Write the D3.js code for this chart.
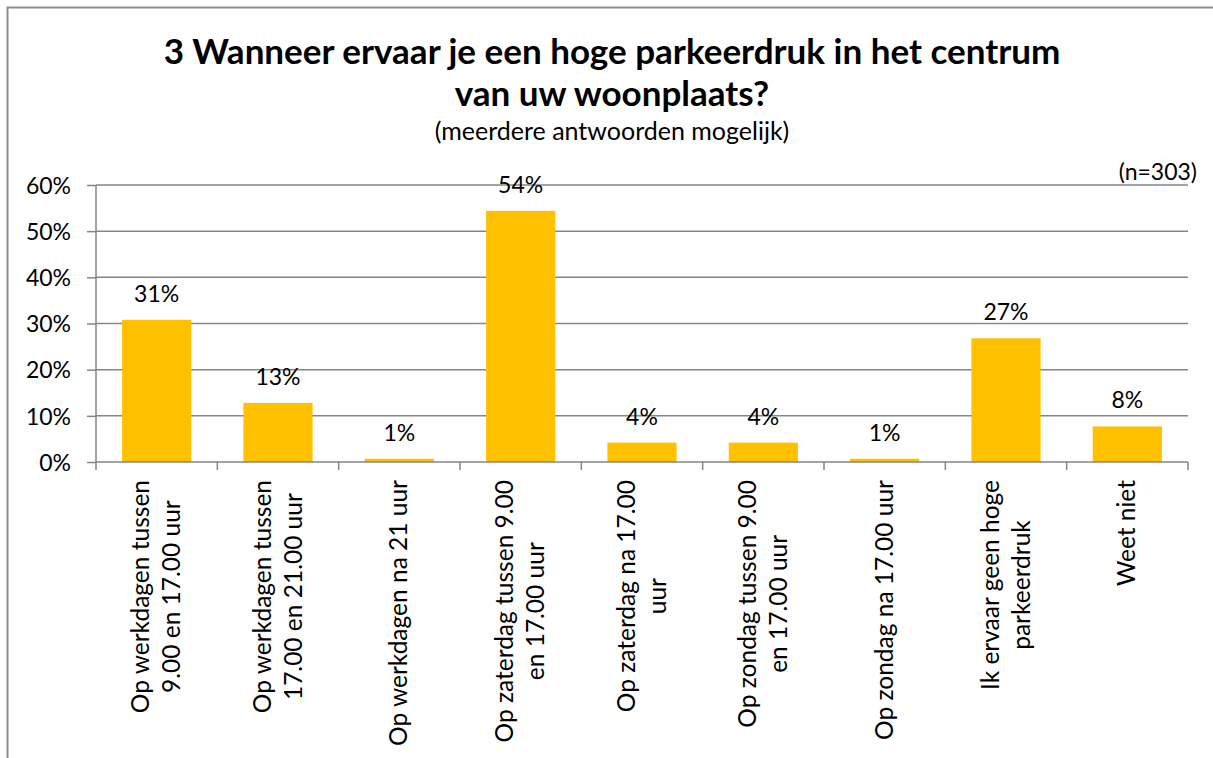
<!DOCTYPE html>
<html>
<head>
<meta charset="utf-8">
<script src="https://cdn.jsdelivr.net/npm/d3@7"></script>
<style>
  body { margin: 0; background: #fff; }
  svg text { font-family: Lato, "Open Sans", sans-serif; fill: #000; }
</style>
</head>
<body>
<svg id="chart" width="1213" height="758"></svg>
<script>
// data
var categories = [
    ["Op werkdagen tussen", "9.00 en 17.00 uur"],
    ["Op werkdagen tussen", "17.00 en 21.00 uur"],
    ["Op werkdagen na 21 uur"],
    ["Op zaterdag tussen 9.00", "en 17.00 uur"],
    ["Op zaterdag na 17.00", "uur"],
    ["Op zondag tussen 9.00", "en 17.00 uur"],
    ["Op zondag na 17.00 uur"],
    ["Ik ervaar geen hoge", "parkeerdruk"],
    ["Weet niet"]
];
var values = [30.8, 12.8, 0.7, 54.4, 4.2, 4.2, 0.7, 26.8, 7.7];
var valueLabels = ["31%", "13%", "1%", "54%", "4%", "4%", "1%", "27%", "8%"];
var yTicks = [0, 10, 20, 30, 40, 50, 60];
var titleLines = ["3 Wanneer ervaar je een hoge parkeerdruk in het centrum", "van uw woonplaats?"];
var subtitle = "(meerdere antwoorden mogelijk)";
var nLabel = "(n=303)";

var svg = d3.select("#chart");
var gridColor = "#868686";

// chart border (runs off the right and bottom edge)
svg.append("rect")
    .attr("x", 7.5).attr("y", 7.5)
    .attr("width", 1230).attr("height", 800)
    .attr("fill", "none")
    .attr("stroke", "#8c8c8c")
    .attr("stroke-width", 2);

// titles
svg.selectAll(".title")
    .data(titleLines)
    .enter().append("text")
    .attr("class", "title")
    .attr("x", 612)
    .attr("y", (d, i) => 64 + i * 42)
    .attr("text-anchor", "middle")
    .style("font-size", "35px")
    .style("font-weight", "bold")
    .text(d => d);

svg.append("text")
    .attr("x", 612).attr("y", 140)
    .attr("text-anchor", "middle")
    .style("font-size", "25px")
    .text(subtitle);

svg.append("text")
    .attr("x", 1197).attr("y", 180)
    .attr("text-anchor", "end")
    .style("font-size", "23px")
    .text(nLabel);

var x0 = 96, x1 = 1188, yTop = 185, yBottom = 462;

var x = d3.scaleBand()
    .domain(d3.range(categories.length))
    .range([x0, x1])
    .paddingInner(0.43)
    .paddingOuter(0.215);

var y = d3.scaleLinear()
    .domain([0, 60])
    .range([yBottom, yTop]);

// gridlines + y axis
var yAxis = svg.append("g")
    .attr("transform", "translate(" + x0 + ",0)")
    .call(d3.axisLeft(y).tickValues(yTicks).tickSize(9).tickPadding(16).tickFormat(d => d + "%"));
yAxis.select(".domain").remove();
yAxis.selectAll(".tick line").attr("stroke", gridColor).attr("stroke-width", 1.5);
yAxis.selectAll(".tick text").style("font-size", "23px").attr("fill", "#000").attr("dy", "0.36em");

svg.append("g")
    .selectAll("line")
    .data(yTicks.filter(d => d > 0))
    .enter().append("line")
    .attr("x1", x0).attr("x2", x1)
    .attr("y1", d => y(d)).attr("y2", d => y(d))
    .attr("stroke", gridColor)
    .attr("stroke-width", 1.5);

// bars
svg.append("g")
    .selectAll("rect")
    .data(values)
    .enter().append("rect")
    .attr("x", (d, i) => x(i))
    .attr("width", x.bandwidth())
    .attr("y", d => y(d))
    .attr("height", d => yBottom - y(d))
    .attr("fill", "#FFC000");

// value labels
svg.append("g")
    .selectAll("text")
    .data(values)
    .enter().append("text")
    .attr("x", (d, i) => x(i) + x.bandwidth() / 2)
    .attr("y", d => y(d) - 18)
    .attr("text-anchor", "middle")
    .style("font-size", "23px")
    .text((d, i) => valueLabels[i]);

// x axis line and tick marks at category boundaries
var step = (x1 - x0) / categories.length;
svg.append("line")
    .attr("x1", x0).attr("x2", x1)
    .attr("y1", yBottom).attr("y2", yBottom)
    .attr("stroke", gridColor).attr("stroke-width", 1.5);
svg.append("line")
    .attr("x1", x0).attr("x2", x0)
    .attr("y1", yTop).attr("y2", yBottom + 8)
    .attr("stroke", gridColor).attr("stroke-width", 1.5);
svg.append("g")
    .selectAll("line")
    .data(d3.range(1, categories.length + 1))
    .enter().append("line")
    .attr("x1", d => x0 + d * step).attr("x2", d => x0 + d * step)
    .attr("y1", yBottom).attr("y2", yBottom + 8)
    .attr("stroke", gridColor).attr("stroke-width", 1.5);

// rotated category labels, block top-aligned under the axis, lines centred
var lineGap = 31;
categories.forEach(function (lines, i) {
    var cx = x(i) + x.bandwidth() / 2;
    var g = svg.append("g");
    var texts = g.selectAll("text")
        .data(lines)
        .enter().append("text")
        .attr("text-anchor", "middle")
        .style("font-size", "24.5px")
        .text(d => d);
    var maxLen = d3.max(texts.nodes(), n => n.getComputedTextLength());
    var midY = 480 + maxLen / 2;
    texts.attr("transform", (d, j) => {
        var off = (j - (lines.length - 1) / 2) * lineGap;
        return "translate(" + (cx + off + 8) + "," + midY + ") rotate(-90)";
    });
});
</script>
</body>
</html>
